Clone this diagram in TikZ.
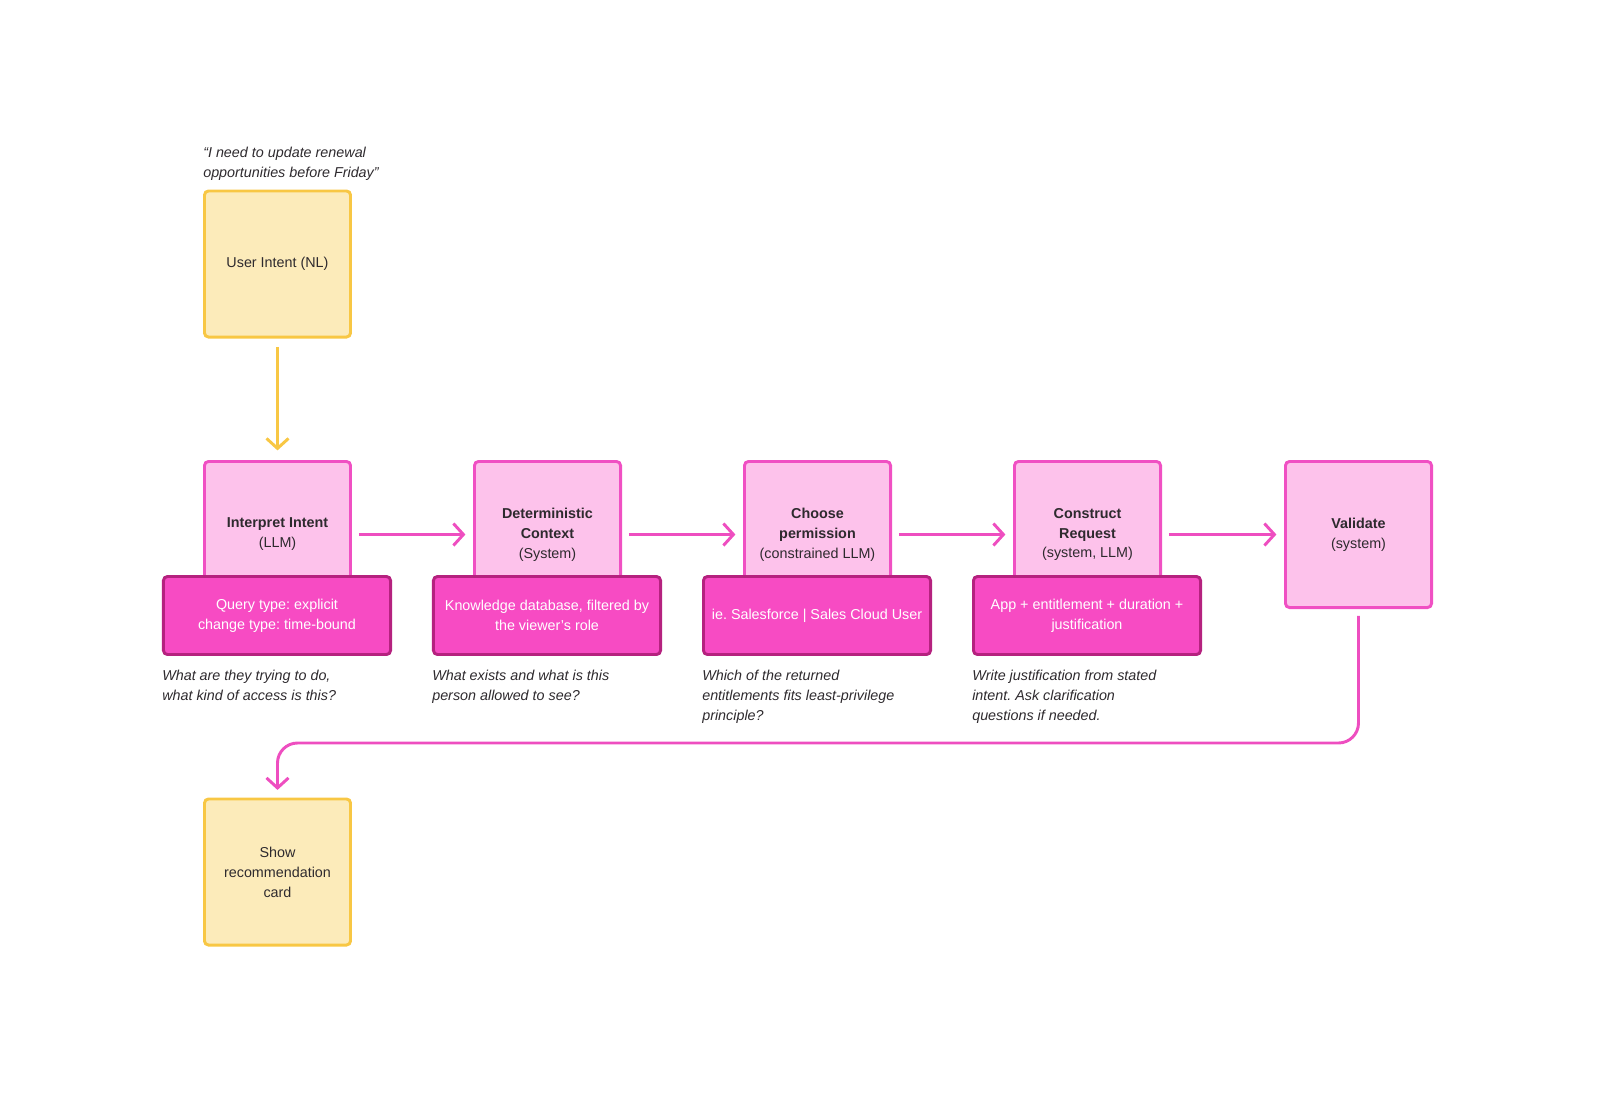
\documentclass[tikz,border=0pt]{standalone}
\usepackage{fontspec}
\setmainfont{Liberation Sans}
\usetikzlibrary{arrows.meta,positioning}
\definecolor{cardfill}{HTML}{FCEBBA}
\definecolor{cardedge}{HTML}{F8C744}
\definecolor{stepfill}{HTML}{FDC2EB}
\definecolor{stepedge}{HTML}{F050C3}
\definecolor{notefill}{HTML}{F74BC3}
\definecolor{noteedge}{HTML}{B5227F}
\definecolor{linkpink}{HTML}{EE4EC0}
\definecolor{inkdark}{HTML}{2E2A2E}
\frenchspacing

\begin{document}
\begin{tikzpicture}[x=0.025cm,y=-0.025cm,
  font=\fontsize{10.2}{14.2}\selectfont,
  usercard/.style={draw=cardedge,fill=cardfill,line width=2.1pt,rounded corners=0.1cm,
    minimum width=3.65cm,minimum height=3.65cm,align=center,text=inkdark},
  stepcard/.style={draw=stepedge,fill=stepfill,line width=2.1pt,rounded corners=0.1cm,
    minimum width=3.65cm,minimum height=3.65cm,align=center,text=inkdark},
  notecard/.style={draw=noteedge,fill=notefill,line width=2.1pt,rounded corners=0.1cm,
    minimum width=5.675cm,minimum height=1.95cm,align=center,text=white},
  remark/.style={inner sep=0pt,align=left,text=inkdark,font=\fontsize{10.2}{14.2}\selectfont\itshape},
  flow/.style={linkpink,line width=2.1pt,-{Straight Barb[length=0.25cm,width=0.55cm]},
    shorten <=0.17cm,shorten >=0.19cm},
  feed/.style={cardedge,line width=2.1pt,-{Straight Barb[length=0.25cm,width=0.55cm]},
    shorten <=0.21cm,shorten >=0.24cm}]
  \useasboundingbox (0,0) rectangle (1600,1113);

  \node[usercard] (intent) at (277.5,264) {User Intent (NL)};
  \node[remark,above right=0.22cm and 0cm of intent.north west] (quote)
    {“I need to update renewal\\opportunities before Friday”};

  \node[stepcard] (interpret) at (277.5,534.5) {\textbf{Interpret Intent}\\(LLM)};
  \node[stepcard] (context) at (547.5,534.5) {\textbf{Deterministic}\\\textbf{Context}\\(System)};
  \node[stepcard] (choose) at (817.5,534.5) {\textbf{Choose}\\\textbf{permission}\\(constrained LLM)};
  \node[stepcard] (construct) at (1087.5,534.5) {\textbf{Construct}\\\textbf{Request}\\(system, LLM)};
  \node[stepcard] (validate) at (1358.5,534.5) {\textbf{Validate}\\(system)};

  \node[notecard] (querybox) at (277,615.5) {Query type: explicit\\change type: time-bound};
  \node[notecard] (kbbox) at (547,615.5) {Knowledge database, filtered by\\the viewer’s role};
  \node[notecard] (permbox) at (817,615.5) {ie. Salesforce | Sales Cloud User};
  \node[notecard] (reqbox) at (1087,615.5) {App + entitlement + duration +\\justification};

  \node[remark,below right=0.34cm and 0cm of querybox.south west] (queryq)
    {What are they trying to do,\\what kind of access is this?};
  \node[remark,below right=0.34cm and 0cm of kbbox.south west] (kbq)
    {What exists and what is this\\person allowed to see?};
  \node[remark,below right=0.34cm and 0cm of permbox.south west] (permq)
    {Which of the returned\\entitlements fits least-privilege\\principle?};
  \node[remark,below right=0.34cm and 0cm of reqbox.south west] (reqq)
    {Write justification from stated\\intent. Ask clarification\\questions if needed.};

  \node[usercard] (show) at (277.5,872) {Show\\recommendation\\card};

  \draw[feed] (intent) -- (interpret);
  \draw[flow] (interpret) -- (context);
  \draw[flow] (context) -- (choose);
  \draw[flow] (choose) -- (construct);
  \draw[flow] (construct) -- (validate);
  \coordinate (turn) at (0,743);
  \draw[flow,rounded corners=0.5cm] (validate.south) |- (show.north |- turn) -- (show.north);
\end{tikzpicture}
\end{document}
